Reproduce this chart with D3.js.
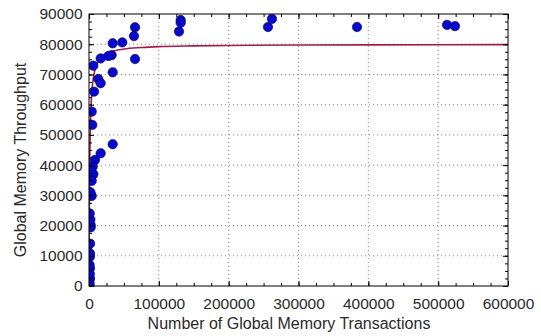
<!DOCTYPE html>
<html><head><meta charset="utf-8">
<script src="https://cdn.jsdelivr.net/npm/d3@7"></script>
<style>
body{margin:0;background:#fff;}
text{font-family:"Liberation Sans",Arial,sans-serif;fill:#2a2a2a;}
</style></head>
<body><svg id="c" width="541" height="336"></svg>
<script>
// Scatter data: number of global memory transactions vs throughput
const transactions = [131300,131300,128900,262000,256300,383800,512700,524100,
  65900,64400,65900,47700,33900,33900,32500,27700,16700,6200,13300,16700,7200,3900,4700,
  33900,16700,8600,5300,6200,3900,3900,2400,2400,1400,1400,1400,1400,
  800,600,400,2000,1000,2000,3000,1500,800,1200];
const throughput = [88000,87100,84200,88400,85700,85700,86400,86000,
  85600,82700,75100,80600,80300,70700,76400,76100,75300,72900,68500,67100,64300,57700,53300,
  46900,43900,41700,39500,37000,34800,29800,20200,19400,10800,9700,5900,2500,
  500,1500,200,22000,24000,31000,38000,14000,7000,4000];
// Fitted curve
const fitX = [0,250,500,1000,2000,3000,4000,6000,8000,10000,15000,20000,30000,50000,75000,100000,150000,200000,300000,400000,600000];
const fitY = [0,16000,27000,40000,53000,60000,64000,68500,71000,72700,75000,76200,77400,78400,78900,79200,79450,79600,79730,79800,79870];
const xTicks = [0,100000,200000,300000,400000,500000,600000];
const yTicks = [0,10000,20000,30000,40000,50000,60000,70000,80000,90000];

const m = {l:89, t:14, r:508, b:286};
const svg = d3.select("#c");
const x = d3.scaleLinear().domain([0,600000]).range([m.l,m.r]);
const y = d3.scaleLinear().domain([0,90000]).range([m.b,m.t]);

svg.append("defs").append("clipPath").attr("id","clip")
  .append("rect").attr("x",m.l).attr("y",m.t).attr("width",m.r-m.l).attr("height",m.b-m.t);

// grid
const g = svg.append("g");
g.selectAll(".gx").data(xTicks.slice(1,-1)).join("line")
  .attr("x1",d=>x(d)).attr("x2",d=>x(d)).attr("y1",m.t).attr("y2",m.b)
  .attr("stroke","#888").attr("stroke-dasharray","1,3");
g.selectAll(".gy").data(yTicks.slice(1,-1)).join("line")
  .attr("y1",d=>y(d)).attr("y2",d=>y(d)).attr("x1",m.l).attr("x2",m.r)
  .attr("stroke","#888").attr("stroke-dasharray","1,3");

// fit line
const pts = fitX.map((d,i)=>[d,fitY[i]]);
svg.append("path").datum(pts).attr("clip-path","url(#clip)")
  .attr("d",d3.line().x(d=>x(d[0])).y(d=>y(d[1])).curve(d3.curveMonotoneX))
  .attr("fill","none").attr("stroke","#a01e4c").attr("stroke-width",1.6);

// points
svg.append("g").attr("clip-path","url(#clip)").selectAll("circle")
  .data(transactions.map((d,i)=>[d,throughput[i]])).join("circle")
  .attr("cx",d=>x(d[0])).attr("cy",d=>y(d[1])).attr("r",4.7)
  .attr("fill","#0808d0").attr("stroke","#000040").attr("stroke-width",0.6);

// axes (ticks inward on all sides)
const minorX = d3.range(0,600001,25000), minorY = d3.range(0,90001,2500);
function addAxis(axis, tr, major, minor){
  const a = svg.append("g").attr("transform",tr);
  a.call(axis.tickValues(minor).tickSize(-3).tickFormat(""));
  a.call(ax=>ax.select(".domain").remove());
  const b = svg.append("g").attr("transform",tr);
  b.call(axis.tickValues(major).tickSize(-5).tickFormat(d3.format("d")).tickPadding(8));
  b.call(ax=>ax.select(".domain").remove());
  return b;
}
const bx = addAxis(d3.axisBottom(x), `translate(0,${m.b})`, xTicks, minorX);
bx.selectAll("text").attr("font-size","15.5px").attr("dy","0.95em");
const tx = addAxis(d3.axisTop(x), `translate(0,${m.t})`, xTicks, minorX);
tx.selectAll("text").remove();
const ly = addAxis(d3.axisLeft(y), `translate(${m.l},0)`, yTicks, minorY);
ly.selectAll("text").attr("font-size","15.5px").attr("dx","0.1em");
const ry = addAxis(d3.axisRight(y), `translate(${m.r},0)`, yTicks, minorY);
ry.selectAll("text").remove();
svg.selectAll(".tick line").attr("stroke","#000");
svg.selectAll(".tick text").attr("fill","#2a2a2a").attr("font-family","Liberation Sans, Arial, sans-serif");

svg.append("rect").attr("x",m.l).attr("y",m.t).attr("width",m.r-m.l).attr("height",m.b-m.t)
  .attr("fill","none").attr("stroke","#000").attr("stroke-width",1);

svg.append("text").attr("x",289).attr("y",329).attr("text-anchor","middle")
  .attr("font-size","16px").text("Number of Global Memory Transactions");
svg.append("text").attr("transform","translate(26,160) rotate(-90)").attr("text-anchor","middle")
  .attr("font-size","16px").text("Global Memory Throughput");
</script></body></html>
